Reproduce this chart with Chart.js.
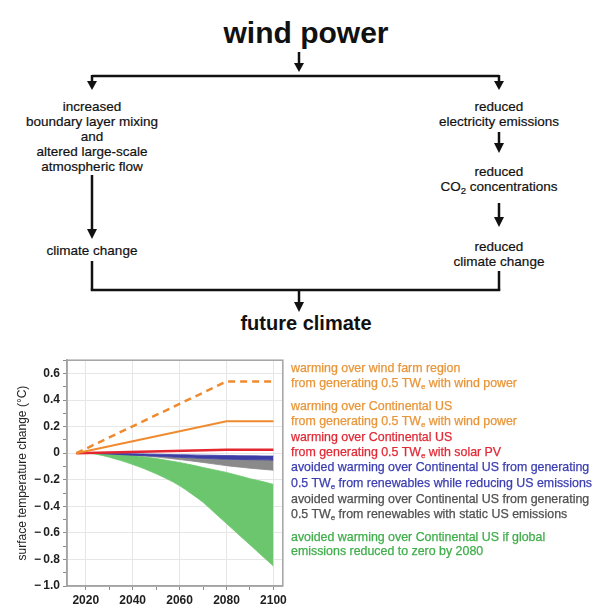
<!DOCTYPE html>
<html>
<head>
<meta charset="utf-8">
<script src="https://cdn.jsdelivr.net/npm/chart.js@4.4.1/dist/chart.umd.min.js"></script>
<style>
  html, body { margin: 0; padding: 0; background: #fff; }
  #page { position: relative; width: 595px; height: 606px; overflow: hidden; background: #fff;
          font-family: "Liberation Sans", Arial, Helvetica, sans-serif; }
  #flow { position: absolute; left: 0; top: 0; }
  #chartBox { position: absolute; left: 0; top: 350px; width: 290px; height: 256px; }
  .leg { position: absolute; left: 291px; font-size: 12.4px; line-height: 15px; white-space: nowrap;
         -webkit-text-stroke: 0.25px currentColor; }
  .leg sub { font-size: 8px; vertical-align: -2px; line-height: 0; }
</style>
</head>
<body>
<div id="page">
  <svg id="flow" width="595" height="345" xmlns="http://www.w3.org/2000/svg"
       font-family="Liberation Sans, Arial, Helvetica, sans-serif" fill="#111">
    <g stroke="#111" stroke-width="2.5" fill="none">
      <line x1="299" y1="52" x2="299" y2="64"/>
      <line x1="92" y1="76" x2="499" y2="76"/>
      <line x1="92" y1="75" x2="92" y2="82"/>
      <line x1="499" y1="75" x2="499" y2="82"/>
      <line x1="92" y1="175" x2="92" y2="230"/>
      <line x1="499" y1="132" x2="499" y2="144"/>
      <line x1="499" y1="203" x2="499" y2="218"/>
      <line x1="92" y1="261" x2="92" y2="290"/>
      <line x1="499" y1="271" x2="499" y2="290"/>
      <line x1="90.75" y1="290" x2="500.25" y2="290"/>
      <line x1="299" y1="290" x2="299" y2="303"/>
    </g>
    <g fill="#111" stroke="none">
      <path d="M294,63 L304,63 L299,72 z"/>
      <path d="M87,81 L97,81 L92,90 z"/>
      <path d="M494,81 L504,81 L499,90 z"/>
      <path d="M87,229 L97,229 L92,239 z"/>
      <path d="M494,143 L504,143 L499,153 z"/>
      <path d="M494,217 L504,217 L499,227 z"/>
      <path d="M294,302 L304,302 L299,312 z"/>
    </g>
    <text x="306" y="43" font-size="30" font-weight="bold" text-anchor="middle">wind power</text>
    <g font-size="13.5" text-anchor="middle" stroke="#111" stroke-width="0.2">
      <text x="92" y="111">increased</text>
      <text x="92" y="126">boundary layer mixing</text>
      <text x="92" y="141">and</text>
      <text x="92" y="156">altered large-scale</text>
      <text x="92" y="171">atmospheric flow</text>
      <text x="92" y="255">climate change</text>
      <text x="499" y="111">reduced</text>
      <text x="499" y="126">electricity emissions</text>
      <text x="499" y="176">reduced</text>
      <text x="499" y="191">CO<tspan font-size="9.5" dy="3">2</tspan><tspan dy="-3"> concentrations</tspan></text>
      <text x="499" y="251">reduced</text>
      <text x="499" y="266">climate change</text>
    </g>
    <text x="306" y="330" font-size="20" font-weight="bold" text-anchor="middle">future climate</text>
  </svg>

  <div id="chartBox"><canvas id="c" width="290" height="256"></canvas></div>

  <div class="leg" style="top:361px;color:#e8963a">warming over wind farm region</div>
  <div class="leg" style="top:376px;color:#e8963a">from generating 0.5 TW<sub>e</sub> with wind power</div>
  <div class="leg" style="top:399px;color:#e8963a">warming over Continental US</div>
  <div class="leg" style="top:414px;color:#e8963a">from generating 0.5 TW<sub>e</sub> with wind power</div>
  <div class="leg" style="top:430px;color:#e02a36">warming over Continental US</div>
  <div class="leg" style="top:444.5px;color:#e02a36">from generating 0.5 TW<sub>e</sub> with solar PV</div>
  <div class="leg" style="top:460px;color:#3b3db0">avoided warming over Continental US from generating</div>
  <div class="leg" style="top:475.5px;color:#3b3db0">0.5 TW<sub>e</sub> from renewables while reducing US emissions</div>
  <div class="leg" style="top:492px;color:#505050">avoided warming over Continental US from generating</div>
  <div class="leg" style="top:507px;color:#505050">0.5 TW<sub>e</sub> from renewables with static US emissions</div>
  <div class="leg" style="top:529.5px;color:#3fae4a">avoided warming over Continental US if global</div>
  <div class="leg" style="top:544px;color:#3fae4a">emissions reduced to zero by 2080</div>
</div>

<script>
// ---- data ----
const lineYears = [2016, 2080, 2100];
const windFarmWarming = [0, 0.54, 0.54];
const usWindWarming = [0, 0.24, 0.24];
const usSolarWarming = [0, 0.025, 0.025];

const bandYears = [2016, 2020, 2025, 2030, 2035, 2040, 2045, 2050, 2055, 2060, 2065, 2070, 2075, 2080, 2085, 2090, 2095, 2100];
const reducingUpper = [0, 0, 0, -0.001, -0.002, -0.004, -0.006, -0.008, -0.010, -0.012, -0.013, -0.015, -0.016, -0.018, -0.019, -0.020, -0.021, -0.022];
const reducingLower = [0, 0, -0.003, -0.007, -0.011, -0.015, -0.019, -0.023, -0.027, -0.031, -0.035, -0.039, -0.042, -0.045, -0.047, -0.049, -0.050, -0.052];
const staticLower   = [0, 0, 0, -0.003, -0.008, -0.014, -0.021, -0.029, -0.038, -0.048, -0.059, -0.070, -0.082, -0.094, -0.104, -0.113, -0.121, -0.128];
const globalUpper   = [0, 0, 0, -0.004, -0.010, -0.018, -0.028, -0.040, -0.055, -0.070, -0.088, -0.108, -0.126, -0.145, -0.168, -0.192, -0.212, -0.235];
const globalLower   = [0, 0, -0.010, -0.030, -0.056, -0.085, -0.118, -0.155, -0.197, -0.245, -0.305, -0.370, -0.450, -0.530, -0.610, -0.690, -0.770, -0.850];

const xTickValues = [2020, 2030, 2040, 2050, 2060, 2070, 2080, 2090, 2100];
const xLabelValues = [2020, 2040, 2060, 2080, 2100];
const yTickValues = [0.7, 0.6, 0.5, 0.4, 0.3, 0.2, 0.1, 0, -0.1, -0.2, -0.3, -0.4, -0.5, -0.6, -0.7, -0.8, -0.9, -1.0];
const yLabelValues = [0.6, 0.4, 0.2, 0, -0.2, -0.4, -0.6, -0.8, -1.0];

// ---- helpers ----
const pts = (xs, ys) => xs.map((x, i) => ({ x: x, y: ys[i] }));
const isLabelY = v => yLabelValues.some(l => Math.abs(l - v) < 1e-6);
const fmtY = v => {
  if (Math.abs(v) < 1e-9) return '0';
  return (v < 0 ? '\u2212\u2009' : '') + Math.abs(v).toFixed(1);
};

const ORANGE = '#ef8a2e', RED = '#e3262f', BLUE = '#3c3ea6', GRAY = '#8a8a8a', GREEN = '#6cc66e';
const FONT = 'Liberation Sans, Arial, Helvetica, sans-serif';

const framePlugin = {
  id: 'frame',
  afterDatasetsDraw(chart) {
    const { ctx, chartArea: a } = chart;
    ctx.save();
    ctx.strokeStyle = '#a3a3a3';
    ctx.lineWidth = 1.5;
    ctx.strokeRect(a.left, a.top, a.right - a.left, a.bottom - a.top);
    ctx.restore();
  }
};

const lineDs = (label, ys, color, dash, width) => ({
  label, data: pts(lineYears, ys), borderColor: color, backgroundColor: color,
  borderWidth: width, borderDash: dash, pointRadius: 0, fill: false, tension: 0
});
const bandDs = (label, ys, border, fillColor, fill) => ({
  label, data: pts(bandYears, ys), borderColor: border, backgroundColor: fillColor,
  borderWidth: 0.8, pointRadius: 0, fill: fill, cubicInterpolationMode: 'monotone'
});

new Chart(document.getElementById('c'), {
  type: 'line',
  data: {
    datasets: [
      lineDs('wind farm region, wind', windFarmWarming, ORANGE, [7, 5], 2.5),
      lineDs('Continental US, wind', usWindWarming, ORANGE, [], 2),
      lineDs('Continental US, solar PV', usSolarWarming, RED, [], 2.5),
      bandDs('reducing US emissions (upper)', reducingUpper, BLUE, BLUE, '+1'),
      bandDs('reducing US emissions (lower)', reducingLower, BLUE, GRAY, '+1'),
      bandDs('static US emissions (lower)', staticLower, GRAY, GRAY, false),
      bandDs('global zero by 2080 (upper)', globalUpper, GREEN, GREEN, '+1'),
      bandDs('global zero by 2080 (lower)', globalLower, GREEN, GREEN, false)
    ]
  },
  options: {
    responsive: false,
    animation: false,
    events: [],
    layout: { padding: { top: 8, right: 5, left: 0, bottom: 0 } },
    plugins: { legend: { display: false }, tooltip: { enabled: false } },
    scales: {
      x: {
        type: 'linear', min: 2012, max: 2104,
        afterBuildTicks: s => { s.ticks = xTickValues.map(v => ({ value: v })); },
        afterFit: s => { s.height = 20; },
        ticks: {
          autoSkip: false, maxRotation: 0, padding: 3, color: '#1e1e1e',
          font: { family: FONT, size: 12, weight: 'bold' },
          callback: v => xLabelValues.includes(v) ? String(v) : ''
        },
        grid: {
          color: c => (c.tick && xLabelValues.includes(c.tick.value)) ? '#e6e6e6' : 'rgba(0,0,0,0)',
          tickColor: '#8d8d8d', tickLength: 4, lineWidth: 1
        },
        border: { color: '#a3a3a3', width: 1.5 }
      },
      y: {
        type: 'linear', min: -1.0, max: 0.7,
        afterBuildTicks: s => { s.ticks = yTickValues.map(v => ({ value: v })); },
        afterFit: s => { s.width = 67; },
        ticks: {
          autoSkip: false, padding: 3, color: '#1e1e1e',
          font: { family: FONT, size: 12, weight: 'bold' },
          callback: v => isLabelY(v) ? fmtY(v) : ''
        },
        grid: {
          color: c => (c.tick && isLabelY(c.tick.value) && c.tick.value > -0.95) ? '#e6e6e6' : 'rgba(0,0,0,0)',
          tickColor: '#8d8d8d', tickLength: 4, lineWidth: 1
        },
        border: { color: '#a3a3a3', width: 1.5 },
        title: {
          display: true, text: 'surface temperature change (\u00B0C)', color: '#222',
          font: { family: FONT, size: 12 }, padding: { top: 15, bottom: 0 }
        }
      }
    }
  },
  plugins: [framePlugin]
});
</script>
</body>
</html>
